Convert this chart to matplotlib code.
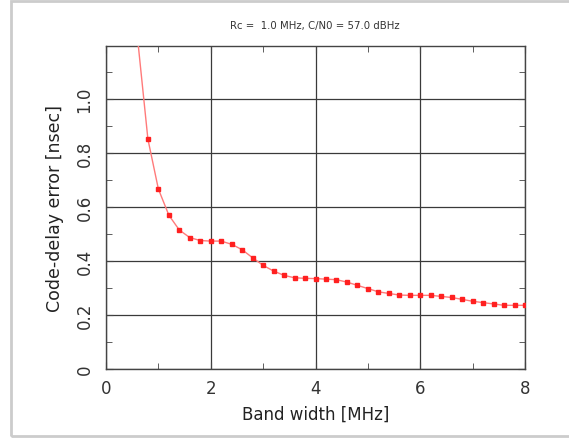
import matplotlib
matplotlib.use("Agg")
import matplotlib.pyplot as plt
from matplotlib.patches import Rectangle
from matplotlib.ticker import MultipleLocator

bandwidth = [0.6, 0.8, 1.0, 1.2, 1.4, 1.6, 1.8, 2.0, 2.2, 2.4, 2.6, 2.8, 3.0, 3.2, 3.4,
             3.6, 3.8, 4.0, 4.2, 4.4, 4.6, 4.8, 5.0, 5.2, 5.4, 5.6, 5.8, 6.0, 6.2,
             6.4, 6.6, 6.8, 7.0, 7.2, 7.4, 7.6, 7.8, 8.0]
error_ns = [1.23, 0.852, 0.667, 0.570, 0.515, 0.487, 0.476, 0.474, 0.474, 0.462, 0.442,
            0.412, 0.384, 0.363, 0.347, 0.338, 0.336, 0.335, 0.333, 0.331, 0.322,
            0.310, 0.298, 0.286, 0.280, 0.274, 0.273, 0.273, 0.273, 0.269, 0.265,
            0.258, 0.251, 0.246, 0.241, 0.236, 0.236, 0.236]
title = "Rc =  1.0 MHz, C/N0 = 57.0 dBHz"
xticks = [0, 2, 4, 6, 8]
yticks = [0, 0.2, 0.4, 0.6, 0.8, 1.0]

plt.rcParams['font.family'] = ['DejaVu Sans']

fig = plt.figure(figsize=(5.69, 4.39), dpi=100)
fig.patches.append(Rectangle((11/569, 2/439), 1.0, 435/439, transform=fig.transFigure,
                             fill=False, edgecolor='#cccccc', linewidth=2.0))

ax = fig.add_axes([106/569, 69/439, 419/569, 323/439])
ax.plot(bandwidth, error_ns, color='#ff7a7a', lw=1.0, zorder=3)
ax.plot(bandwidth, error_ns, ls='none', marker='s', ms=2.2, color='#ff2020',
        mec='#ff2020', zorder=4)

ax.set_xlim(0, 8)
ax.set_ylim(0, 1.197)
ax.set_xticks(xticks)
ax.set_yticks(yticks)
ax.set_yticklabels([f"{v:.1f}" if v else "0" for v in yticks], rotation=90, va='center')
ax.xaxis.set_minor_locator(MultipleLocator(1))
ax.yaxis.set_minor_locator(MultipleLocator(0.1))
ax.tick_params(which='both', direction='in', top=True, right=True, color='#444444',
               labelcolor='#333333', labelsize=12)
ax.tick_params(which='major', length=5)
ax.tick_params(which='minor', length=4)
ax.tick_params(axis='x', pad=7)
ax.tick_params(axis='y', pad=9)
ax.grid(True, which='major', color='#3a3a3a', lw=0.9)
for s in ax.spines.values():
    s.set_color('#444444')
    s.set_linewidth(1.0)

ax.set_xlabel("Band width [MHz]", fontsize=12, color='#222222', labelpad=6)
ax.set_ylabel("Code-delay error [nsec]", fontsize=12.5, color='#222222', labelpad=8)
fig.text(315/569, 1 - 26/439, title, fontsize=7.3, ha='center', va='center', color='#333333')

fig.savefig("out.png", dpi=100)
